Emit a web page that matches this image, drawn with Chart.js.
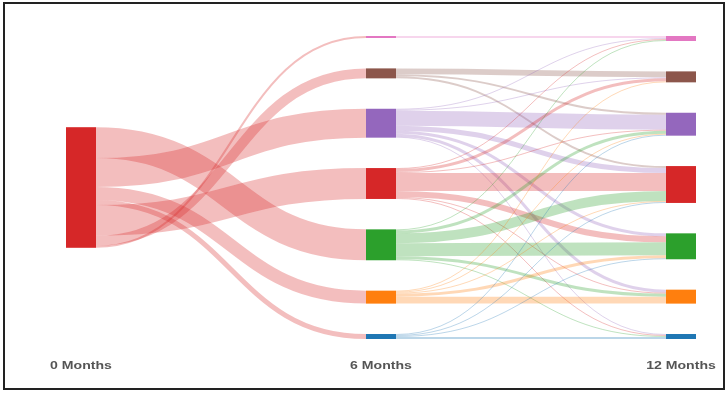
<!DOCTYPE html>
<html>
<head>
<meta charset="utf-8">
<script src="https://cdn.jsdelivr.net/npm/chart.js@4/dist/chart.umd.min.js"></script>
<style>
    body { margin: 0; background: #fff; }
    #frame {
        position: absolute; left: 3px; top: 2px;
        width: 722px; height: 388px;
        box-sizing: border-box;
        border: 2px solid #222;
    }
    #sankey { position: absolute; left: 0; top: 0; }
</style>
</head>
<body>
<div id="frame"></div>
<canvas id="sankey" width="727" height="393"></canvas>
<script>
// time points (months) and their labels
const months = [0, 6, 12];
const monthLabels = ['0 Months', '6 Months', '12 Months'];

// states, top to bottom
const states = ['S1', 'S2', 'S3', 'S4', 'S5', 'S6', 'S7'];

// cohort at 0 months -> state at 6 months
const startFlows = [2, 10, 29, 31, 31, 13, 5];
// order in which the links leave the start node (state index)
const startOrder = [4, 2, 5, 6, 3, 1, 0];

// state at 6 months (rows) -> state at 12 months (columns)
const flows6to12 = [
    [2, 0, 0, 0, 0, 0, 0],
    [0, 6, 2, 2, 0, 0, 0],
    [1, 1, 15, 5, 3, 3, 1],
    [1, 3, 1, 18, 6, 1, 1],
    [1, 0, 3, 10, 13, 3, 1],
    [0, 1, 1, 1, 3, 7, 0],
    [0, 0, 1, 1, 1, 0, 2]
];

const stateColors = ['#e377c2', '#8c564b', '#9467bd', '#d62728', '#2ca02c', '#ff7f0e', '#1f77b4'];
const startColor = '#d62728';
const PAD = 30.5;       // gap between nodes, value units
const NODE_W = 30;      // px
const LINK_ALPHA = 0.3;

const sum = a => a.reduce((s, v) => s + v, 0);
const cohort = sum(startFlows);
const endValues = states.map((s, j) => sum(flows6to12.map(r => r[j])));
const yMax = Math.max(cohort, sum(startFlows) + (states.length - 1) * PAD, sum(endValues) + (states.length - 1) * PAD);

function layoutColumn(values) {
    let pos = (yMax - sum(values) - (values.length - 1) * PAD) / 2;
    return values.map(v => { let p = pos; pos += v + PAD; return p; });
}

const col0 = layoutColumn([cohort]);
const col1 = layoutColumn(startFlows);
const col2 = layoutColumn(endValues);

// build links in value units
let links = [];
let off = 0;
startOrder.forEach(k => {
    links.push({ m0: months[0], m1: months[1], y0: col0[0] + off, y1: col1[k], v: startFlows[k], color: startColor });
    off += startFlows[k];
});
let inOff = states.map(() => 0);
flows6to12.forEach((row, i) => {
    let outOff = 0;
    row.forEach((v, j) => {
        if (v <= 0) return;
        links.push({ m0: months[1], m1: months[2], y0: col1[i] + outOff, y1: col2[j] + inOff[j], v: v, color: stateColors[i] });
        outOff += v;
        inOff[j] += v;
    });
});

const sankeyPlugin = {
    id: 'sankey',
    afterDatasetsDraw(chart) {
        const ctx = chart.ctx;
        const x = chart.scales.x, y = chart.scales.y;
        const h = v => Math.abs(y.getPixelForValue(v) - y.getPixelForValue(0));

        ctx.save();
        ctx.globalAlpha = LINK_ALPHA;
        ctx.lineCap = 'butt';
        links.forEach(l => {
            const x0 = x.getPixelForValue(l.m0) + NODE_W;
            const x1 = x.getPixelForValue(l.m1);
            const xi = (x0 + x1) / 2;
            const w = h(l.v);
            const ya = y.getPixelForValue(l.y0) + w / 2;
            const yb = y.getPixelForValue(l.y1) + w / 2;
            ctx.strokeStyle = l.color;
            ctx.lineWidth = w;
            ctx.beginPath();
            ctx.moveTo(x0, ya);
            ctx.bezierCurveTo(xi, ya, xi, yb, x1, yb);
            ctx.stroke();
        });
        ctx.restore();

        // nodes
        const drawNode = (m, start, v, color) => {
            ctx.fillStyle = color;
            ctx.fillRect(x.getPixelForValue(m), y.getPixelForValue(start), NODE_W, h(v));
        };
        drawNode(months[0], col0[0], cohort, startColor);
        startFlows.forEach((v, i) => drawNode(months[1], col1[i], v, stateColors[i]));
        endValues.forEach((v, i) => drawNode(months[2], col2[i], v, stateColors[i]));

        // time labels
        ctx.save();
        ctx.fillStyle = '#555';
        ctx.font = 'bold 11px "Liberation Sans", Arial, sans-serif';
        ctx.textAlign = 'center';
        ctx.textBaseline = 'middle';
        months.forEach((m, i) => {
            ctx.save();
            ctx.translate(x.getPixelForValue(m) + NODE_W / 2, chart.chartArea.bottom + 27);
            ctx.scale(1.28, 1);
            ctx.fillText(monthLabels[i], 0, 0);
            ctx.restore();
        });
        ctx.restore();
    }
};

new Chart(document.getElementById('sankey'), {
    type: 'scatter',
    data: { datasets: [] },
    options: {
        responsive: false,
        animation: false,
        layout: { padding: { left: 66, right: 61, top: 36, bottom: 54 } },
        plugins: { legend: { display: false }, tooltip: { enabled: false } },
        scales: {
            x: { type: 'linear', min: months[0], max: months[months.length - 1], display: false },
            y: { type: 'linear', min: 0, max: yMax, reverse: true, display: false }
        }
    },
    plugins: [sankeyPlugin]
});
</script>
</body>
</html>
